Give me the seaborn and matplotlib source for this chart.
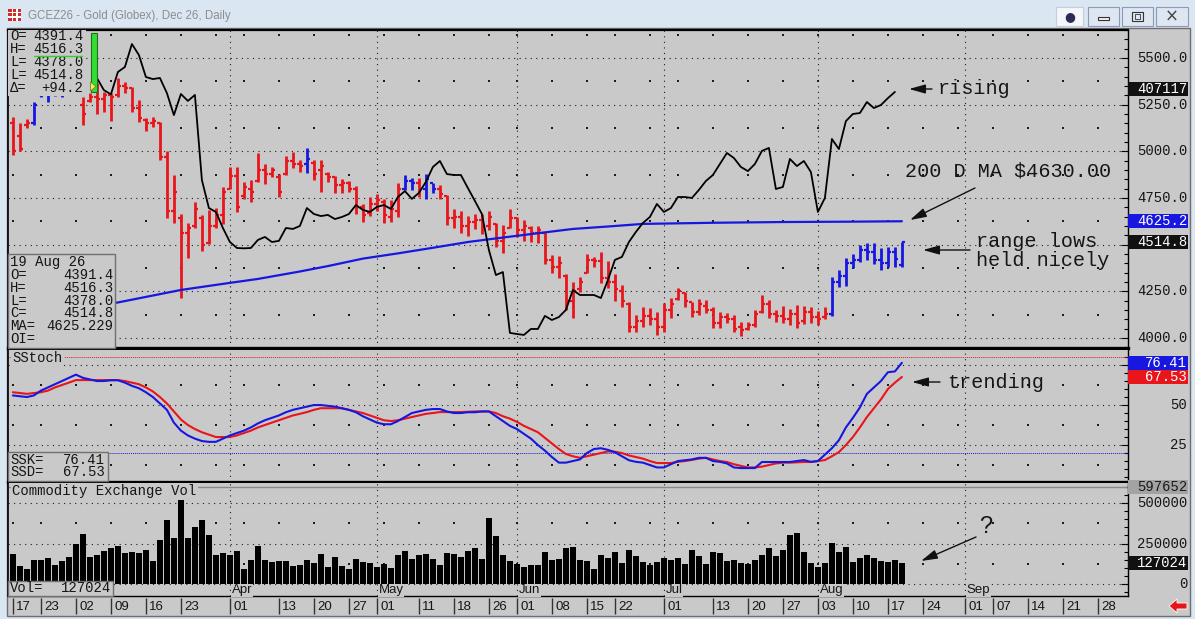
import numpy as np
import pandas as pd
import matplotlib
matplotlib.use("Agg")
import matplotlib.pyplot as plt
from matplotlib.patches import Rectangle, Polygon, FancyArrowPatch
from matplotlib.lines import Line2D
from matplotlib.ticker import MultipleLocator
import seaborn as sns

# ---------------- calendar ----------------
first_day = "2026-02-17"
last_day = "2026-09-30"
holidays = ["2026-04-03", "2026-05-25", "2026-06-19", "2026-07-03"]

week_ticks = ["2026-02-17", "2026-02-23", "2026-03-02", "2026-03-09", "2026-03-16",
              "2026-03-23", "2026-04-01", "2026-04-13", "2026-04-20", "2026-04-27",
              "2026-05-01", "2026-05-11", "2026-05-18", "2026-05-26", "2026-06-01",
              "2026-06-08", "2026-06-15", "2026-06-22", "2026-07-01", "2026-07-13",
              "2026-07-20", "2026-07-27", "2026-08-03", "2026-08-10", "2026-08-17",
              "2026-08-24", "2026-09-01", "2026-09-07", "2026-09-14", "2026-09-21",
              "2026-09-28"]
month_names = ["Apr", "May", "Jun", "Jul", "Aug", "Sep"]
month_starts = ["2026-04-01", "2026-05-01", "2026-06-01", "2026-07-01", "2026-08-03", "2026-09-01"]

# ---------------- daily bars (GCZ26) ----------------
high = [5184, 5152, 5173, 5264, 5380, 5400, 5420, 5450, 5470, 5440,
        5290, 5312, 5366, 5318, 5312, 5392, 5371, 5344, 5275, 5178,
        5184, 5157, 5002, 4873, 4664, 4616, 4728, 4659, 4686, 4696,
        4809, 4916, 4916, 4836, 4846, 4991, 4932, 4916, 4878, 4975,
        4996, 4953, 5018, 4953, 4953, 4889, 4868, 4852, 4841, 4814,
        4718, 4755, 4771, 4745, 4739, 4830, 4873, 4857, 4857, 4878,
        4830, 4820, 4766, 4691, 4680, 4653, 4664, 4664, 4680, 4616,
        4605, 4691, 4648, 4632, 4600, 4600, 4568, 4445, 4439, 4343,
        4300, 4327, 4450, 4434, 4461, 4410, 4340, 4284, 4193, 4123,
        4166, 4161, 4139, 4187, 4214, 4268, 4246, 4193, 4209, 4204,
        4166, 4139, 4134, 4123, 4086, 4086, 4150, 4230, 4204, 4150,
        4171, 4155, 4177, 4171, 4166, 4145, 4166, 4327, 4364, 4428,
        4450, 4498, 4509, 4509, 4482, 4487, 4487, 4516.3]
low = [4980, 5002, 5125, 5141, 5290, 5262, 5295, 5290, 5330, 5300,
       5141, 5264, 5200, 5210, 5162, 5290, 5312, 5210, 5157, 5109,
       5130, 4953, 4643, 4616, 4214, 4428, 4589, 4466, 4503, 4589,
       4611, 4798, 4675, 4745, 4728, 4836, 4825, 4862, 4755, 4873,
       4911, 4889, 4884, 4846, 4782, 4836, 4777, 4777, 4782, 4664,
       4621, 4653, 4680, 4616, 4621, 4648, 4793, 4793, 4755, 4745,
       4777, 4745, 4605, 4589, 4562, 4546, 4584, 4557, 4578, 4487,
       4455, 4589, 4541, 4519, 4514, 4509, 4396, 4348, 4321, 4150,
       4107, 4246, 4348, 4380, 4294, 4270, 4200, 4166, 4032, 4032,
       4059, 4070, 4016, 4032, 4107, 4204, 4166, 4112, 4123, 4134,
       4054, 4054, 4080, 4032, 4011, 4043, 4059, 4134, 4107, 4086,
       4080, 4070, 4054, 4075, 4080, 4070, 4102, 4118, 4273, 4278,
       4375, 4407, 4418, 4396, 4364, 4380, 4380, 4378.0]
open_ = [5150, 5080, 5140, 5150, 5300, 5350, 5380, 5400, 5420, 5360,
         5250, 5270, 5290, 5280, 5300, 5300, 5350, 5340, 5230, 5170,
         5150, 5150, 4970, 4680, 4640, 4560, 4600, 4640, 4510, 4600,
         4660, 4800, 4870, 4760, 4800, 4840, 4900, 4880, 4860, 4880,
         4950, 4930, 4930, 4940, 4900, 4880, 4860, 4820, 4830, 4800,
         4700, 4670, 4720, 4730, 4650, 4680, 4800, 4840, 4830, 4800,
         4830, 4800, 4760, 4640, 4650, 4600, 4620, 4630, 4600, 4610,
         4520, 4590, 4640, 4580, 4590, 4560, 4560, 4420, 4380, 4330,
         4200, 4260, 4350, 4420, 4410, 4320, 4300, 4250, 4180, 4060,
         4090, 4120, 4100, 4060, 4150, 4210, 4240, 4190, 4140, 4170,
         4150, 4080, 4110, 4100, 4060, 4050, 4070, 4140, 4180, 4130,
         4120, 4100, 4130, 4090, 4140, 4110, 4110, 4130, 4300, 4330,
         4400, 4420, 4470, 4460, 4420, 4400, 4460, 4391.4]
close = [5000, 5010, 5150, 5250, 5360, 5380, 5400, 5420, 5360, 5320,
         5200, 5290, 5280, 5300, 5290, 5350, 5340, 5230, 5180, 5150,
         5160, 4970, 4680, 4780, 4560, 4590, 4690, 4500, 4600, 4660,
         4780, 4870, 4700, 4810, 4780, 4900, 4880, 4900, 4780, 4950,
         4930, 4920, 4960, 4880, 4920, 4860, 4820, 4830, 4800, 4700,
         4660, 4720, 4740, 4660, 4690, 4800, 4840, 4830, 4800, 4850,
         4800, 4770, 4640, 4650, 4600, 4620, 4630, 4600, 4650, 4520,
         4560, 4640, 4580, 4600, 4560, 4580, 4420, 4380, 4400, 4200,
         4250, 4300, 4420, 4410, 4320, 4300, 4260, 4200, 4060, 4090,
         4120, 4100, 4060, 4150, 4180, 4250, 4200, 4140, 4180, 4150,
         4080, 4110, 4100, 4050, 4040, 4070, 4130, 4180, 4130, 4120,
         4100, 4130, 4080, 4140, 4110, 4100, 4130, 4300, 4330, 4400,
         4420, 4470, 4460, 4420, 4400, 4460, 4420.6, 4514.8]
# bar colouring of the platform: r = red, b = blue
bar_trend = ("rrr" + "bbbbb" + "rr" + "r" * 32 + "b" + "r" * 13 + "bb" + "r"
             + "bb" + "r" * 56 + "b" * 11)

# 200 day moving average (read at bar positions)
ma_day = [0, 5, 10, 15, 24, 31, 35, 41, 45, 50, 55, 60, 65, 70, 75, 80, 85, 90,
          100, 110, 120, 127]
ma_val = [4110, 4140, 4165, 4190, 4257, 4295, 4316, 4356, 4385, 4425, 4453, 4483,
          4514, 4538, 4561, 4584, 4597, 4611, 4617, 4621, 4623, 4625.2]

# open interest, drawn on the price scale (starts on bar 12, lags one day)
oi_start = 12
oi_on_price_scale = [5393, 5328, 5305, 5425, 5452, 5575, 5516, 5398, 5387, 5393,
                     5312, 5194, 5307, 5270, 5302, 4846, 4696, 4675, 4589, 4514,
                     4482, 4480, 4482, 4525, 4541, 4514, 4520, 4589, 4584, 4600,
                     4696, 4664, 4653, 4659, 4637, 4648, 4664, 4712, 4686, 4675,
                     4702, 4712, 4691, 4755, 4787, 4745, 4777, 4836, 4916, 4948,
                     4878, 4873, 4873, 4803, 4734, 4664, 4471, 4337, 4353, 4027,
                     4021, 4016, 4048, 4048, 4118, 4096, 4112, 4150, 4257, 4230,
                     4230, 4230, 4214, 4310, 4418, 4434, 4514, 4568, 4616, 4648,
                     4718, 4675, 4696, 4755, 4755, 4750, 4793, 4841, 4873, 4932,
                     4991, 4964, 4916, 4894, 4932, 5002, 5018, 4798, 4809, 4959,
                     4921, 4948, 4889, 4675, 4750, 5066, 5012, 5162, 5200, 5205,
                     5264, 5232, 5248, 5285, 5318]
oi_last = "407117"

# slow stochastic
ssk = [56, 55.5, 55, 56, 59, 61, 63, 65, 67, 69,
       67, 66, 65, 65, 65.5, 65.5, 64, 62, 60.5, 58,
       55, 51, 47, 39, 34, 31, 29, 27.5, 27, 27,
       29, 31, 32.5, 34, 36, 38.5, 40.5, 42, 43.5, 45.5,
       47, 48, 49, 50, 50, 49.5, 49, 48, 47, 45.5,
       43, 41, 39, 38, 38, 40, 42.5, 45, 46, 47,
       47.5, 47.5, 46, 45, 45, 45.5, 45.5, 46, 46, 43,
       40, 37, 35, 32, 29, 25, 21.5, 17.5, 14, 14,
       15, 16, 20, 22.5, 23, 22, 20.5, 18, 15.5, 14.5,
       14, 12.5, 11, 11, 13, 15, 15.5, 16, 17, 17,
       15, 14.5, 13.5, 11, 10.6, 10.6, 10.6, 14.4, 14.4, 14.4,
       14.4, 14.4, 15, 15.6, 14.5, 15, 19, 23, 28, 36,
       42, 48.5, 57, 61, 65, 70.5, 71, 76.41]
ssd = [58, 57.5, 57, 57.5, 58, 59, 61, 62.5, 64, 65.6,
       65.6, 65.6, 65.6, 65.6, 65.6, 65.6, 65, 64, 63, 61,
       58.5, 55, 51, 46, 41, 37.5, 35, 33, 31.5, 30,
       30, 30, 31, 32.5, 34, 36, 37.5, 39, 40.5, 42,
       43.5, 44.5, 45.6, 47, 48, 48, 48, 48, 47, 46,
       45, 43.5, 42, 40.5, 40, 40.5, 41.5, 42.5, 43.5, 44.5,
       45, 45.6, 45.6, 45.6, 45.6, 45.8, 46, 46, 46, 45,
       43, 41.5, 39.5, 37, 35, 33, 29.5, 26, 22.5, 19.4,
       18, 17, 18, 19, 20, 21, 20.8, 20, 18.5, 17.5,
       16.5, 15, 13.75, 13.75, 13.75, 14.5, 15, 15.7, 16.5, 17,
       16, 15, 14.4, 13, 12, 11, 11, 11.5, 12.5, 13.5,
       14, 14, 14.2, 14.4, 14.4, 15, 15.6, 18, 20.6, 25,
       30, 36, 42.5, 48, 53.5, 60, 64, 67.53]

# volume
vol = [185000, 111000, 90000, 148000, 148000, 158000, 117000, 142000, 165000, 247000,
       309000, 167000, 177000, 204000, 220000, 235000, 191000, 198000, 193000, 210000,
       142000, 272000, 395000, 284000, 519000, 284000, 350000, 395000, 303000, 177000,
       193000, 179000, 204000, 90000, 148000, 235000, 148000, 138000, 142000, 142000,
       111000, 117000, 148000, 128000, 185000, 103000, 167000, 111000, 90000, 154000,
       136000, 128000, 105000, 121000, 97000, 177000, 204000, 154000, 179000, 185000,
       154000, 117000, 191000, 185000, 167000, 204000, 222000, 154000, 407000, 296000,
       179000, 142000, 123000, 105000, 117000, 117000, 198000, 148000, 154000, 220000,
       228000, 148000, 140000, 90000, 180000, 160000, 196000, 129000, 212000, 171000,
       133000, 115000, 135000, 160000, 146000, 160000, 125000, 212000, 175000, 125000,
       200000, 194000, 140000, 146000, 129000, 125000, 150000, 181000, 225000, 175000,
       212000, 300000, 312000, 200000, 129000, 104000, 129000, 254000, 200000, 229000,
       137000, 158000, 179000, 160000, 142000, 137000, 148000, 127024]
vol_scale_top = 597652

price_grid = [4000, 4250, 4500, 4750, 5000, 5250, 5500]
price_labels = [4000, 4250, 4750, 5000, 5250, 5500]
stoch_grid = [25, 50, 75]
stoch_labels = [25, 50]
vol_grid = [0, 250000, 500000]

# ---------------- style ----------------
W, H = 1195, 619
GRAY = "#c9c9c9"
FRAME = "#dbe6f3"
RED = "#e8151b"
BLUE = "#1717e0"
DOT = "#1c1c1c"
MONO = ["Liberation Mono", "DejaVu Sans Mono"]
SANS = ["Liberation Sans", "DejaVu Sans"]

sns.set_style("white")
plt.rcParams["font.family"] = MONO

cal = pd.bdate_range(first_day, last_day)
cal = cal[~cal.isin(pd.to_datetime(holidays))]
pos = {d: i for i, d in enumerate(cal)}
week_cols = pd.Series(np.arange(len(cal)), index=cal).groupby(cal.to_period("W")).first().values
month_cols = [pos[pd.Timestamp(d)] for d in month_starts]
tick_cols = [pos[pd.Timestamp(d)] for d in week_ticks]

n = len(high)
idx = np.arange(n)
X0, X1 = -0.7, 159.3

fig = plt.figure(figsize=(W / 100, H / 100), dpi=100)
fig.patch.set_facecolor(FRAME)


def fx(x):
    return x / W


def fy(y):
    return 1 - y / H


def add_axes_px(x0, y0, x1, y1):
    return fig.add_axes([fx(x0), fy(y1), (x1 - x0) / W, (y1 - y0) / H])


def rect_px(x0, y0, x1, y1, z=5, **kw):
    r = Rectangle((fx(x0), fy(y1)), (x1 - x0) / W, (y1 - y0) / H,
                  transform=fig.transFigure, zorder=z, **kw)
    fig.add_artist(r)
    return r


def text_px(x, y, s, z=6, **kw):
    kw.setdefault("va", "center")
    kw.setdefault("family", MONO)
    kw.setdefault("fontsize", 10)
    kw.setdefault("color", "#151515")
    return fig.text(fx(x), fy(y), s, zorder=z, **kw)


def arrow_px(x0, y0, x1, y1):
    fig.add_artist(FancyArrowPatch((fx(x0), fy(y0)), (fx(x1), fy(y1)),
                                   transform=fig.transFigure,
                                   arrowstyle="-|>,head_length=0.9,head_width=0.25",
                                   mutation_scale=11, lw=1.0, color="#111111",
                                   shrinkA=0, shrinkB=0, zorder=7))


# chart background
rect_px(7, 28, 1190, 616, z=-1, facecolor=GRAY, edgecolor="#6e6e6e", lw=1)

ax_p = add_axes_px(8, 30, 1128, 348)
ax_s = add_axes_px(8, 350, 1128, 482)
ax_v = add_axes_px(8, 483, 1128, 596)
ax_d = add_axes_px(8, 597, 1128, 615)

# ---------------- price panel ----------------
bar_colors = [RED if t == "r" else BLUE for t in bar_trend]
ax_p.vlines(idx, low, high, colors=bar_colors, lw=2.0, zorder=3)
ax_p.hlines(open_, idx - 0.42, idx, colors=bar_colors, lw=1.6, zorder=3)
ax_p.hlines(close, idx, idx + 0.42, colors=bar_colors, lw=1.6, zorder=3)
sns.lineplot(x=ma_day, y=ma_val, ax=ax_p, color=BLUE, lw=1.6, zorder=4)
oi_day = idx[oi_start:oi_start + len(oi_on_price_scale)]
sns.lineplot(x=oi_day, y=oi_on_price_scale, ax=ax_p, color="black", lw=1.3, zorder=4)
ax_p.set_ylim(3946, 5650)

# ---------------- stochastic panel ----------------
sns.lineplot(x=idx, y=ssd, ax=ax_s, color=RED, lw=1.5, zorder=4)
sns.lineplot(x=idx, y=ssk, ax=ax_s, color=BLUE, lw=1.5, zorder=5)
ax_s.axhline(80, color=RED, lw=0.7, ls=(0, (1, 1)), zorder=2)
ax_s.axhline(20, color=BLUE, lw=0.7, ls=(0, (1, 1)), zorder=2)
ax_s.set_ylim(1.9, 84.4)

# ---------------- volume panel ----------------
sns.barplot(x=idx, y=vol, ax=ax_v, color="black", width=0.8, native_scale=True,
            errorbar=None, saturation=1, linewidth=0, zorder=3)
ax_v.axhline(vol_scale_top, color="#8a8a8a", lw=1.0, zorder=2)
ax_v.set_ylim(-74000, 623500)

# ---------------- common axis styling ----------------
grids = [(ax_p, price_grid, 125, 250, 50), (ax_s, stoch_grid, 12.5, 25, 5),
         (ax_v, vol_grid, 125000, 250000, 50000)]
for ax, levels, half, major, minor in grids:
    ax.set_xlim(X0, X1)
    ax.set_facecolor(GRAY)
    ax.set_xlabel("")
    ax.set_ylabel("")
    for lv in levels:
        ax.axhline(lv, color=DOT, lw=0.8, ls=(0, (1, 4)), zorder=1)
    for c in month_cols:
        ax.axvline(c, color=DOT, lw=0.8, ls=(0, (1, 4)), zorder=1)
    y0, y1 = ax.get_ylim()
    mids = [lv + half for lv in [levels[0] - 2 * half] + list(levels) if y0 < lv + half < y1]
    gx, gy = np.meshgrid(week_cols, mids)
    ax.scatter(gx.ravel(), gy.ravel(), s=1.6, marker="s", color=DOT, linewidths=0, zorder=1)
    ax.yaxis.set_major_locator(MultipleLocator(major))
    ax.yaxis.set_minor_locator(MultipleLocator(minor))
    ax.tick_params(axis="x", bottom=False, labelbottom=False)
    ax.tick_params(axis="y", which="both", direction="in", left=False, right=True,
                   labelleft=False, labelright=False, color="black", width=0.8)
    ax.tick_params(axis="y", which="major", length=5)
    ax.tick_params(axis="y", which="minor", length=3)
    for s in ax.spines.values():
        s.set_color("black")
    ax.spines["left"].set_linewidth(1.2)
    ax.spines["right"].set_linewidth(1.0)

ax_p.spines["top"].set_linewidth(1.6)
ax_p.spines["bottom"].set_linewidth(2.4)
ax_s.spines["top"].set_visible(False)
ax_s.spines["bottom"].set_linewidth(2.4)
ax_v.spines["top"].set_visible(False)
ax_v.spines["bottom"].set_linewidth(1.0)


def axis_label(ax, v, s, px_h, fc=None, tc="#151515"):
    y0, y1 = ax.get_ylim()
    tr = ax.get_yaxis_transform()
    if fc is not None:
        hh = 7 * (y1 - y0) / px_h
        ax.add_patch(Rectangle((1.0, v - hh), 60 / 1120, 2 * hh, transform=tr,
                               facecolor=fc, edgecolor="none", clip_on=False, zorder=10))
    ax.text(1 + 59 / 1120, v, s, transform=tr, ha="right", va="center", fontsize=10,
            family=MONO, color=tc, clip_on=False, zorder=11)


for v in price_labels:
    axis_label(ax_p, v, f"{v:.1f}", 318)
axis_label(ax_p, oi_on_price_scale[-1] + 14, oi_last, 318, fc="#111111", tc="white")
axis_label(ax_p, ma_val[-1], f"{ma_val[-1]:.1f}", 318, fc=BLUE, tc="white")
axis_label(ax_p, close[-1], f"{close[-1]:.1f}", 318, fc="#111111", tc="white")
for v in stoch_labels:
    axis_label(ax_s, v, f"{v}", 132)
axis_label(ax_s, ssk[-1], f"{ssk[-1]:.2f}", 132, fc=BLUE, tc="white")
axis_label(ax_s, ssd[-1], f"{ssd[-1]:.2f}", 132, fc=RED, tc="white")
for v in vol_grid:
    axis_label(ax_v, v, f"{v}", 113)
axis_label(ax_v, vol_scale_top, f"{vol_scale_top}", 113, fc="#a3a3a3", tc="#1a1a1a")
axis_label(ax_v, vol[-1], f"{vol[-1]}", 113, fc="#111111", tc="white")

# month names just above the date strip
for name, c in zip(month_names, month_cols):
    ax_v.text(c + 0.25, -38000, name, ha="left", va="center", fontsize=9.5, family=SANS,
              color="#151515", zorder=6,
              bbox=dict(boxstyle="square,pad=0.05", facecolor=GRAY, edgecolor="none"))

# ---------------- date strip ----------------
ax_d.set_xlim(X0, X1)
ax_d.set_ylim(0, 1)
ax_d.axis("off")
ax_d.vlines(tick_cols, 0.06, 0.94, colors="#333333", lw=1.0)
for d, c in zip(week_ticks, tick_cols):
    ax_d.text(c + 0.45, 0.45, pd.Timestamp(d).strftime("%d"), ha="left", va="center",
              fontsize=9.5, family=SANS, color="#151515")

# ---------------- data windows ----------------
rect_px(8, 30, 86, 96, facecolor=GRAY, edgecolor="none")
tl_labels = ["O=", "H=", "L=", "L=", "\u0394="]
tl_values = [f"{open_[-1]:.1f}", f"{high[-1]:.1f}", f"{low[-1]:.1f}", f"{close[-1]:.1f}",
             f"{close[-1] - close[-2]:+.1f}"]
for k, (lab, val) in enumerate(zip(tl_labels, tl_values)):
    yy = 36 + 13 * k
    text_px(10, yy, lab)
    text_px(83, yy, val, ha="right")
fig.add_artist(Line2D([fx(34), fx(82)], [fy(56), fy(56)], transform=fig.transFigure,
                      color="#2fcf2f", lw=1, zorder=7))
rect_px(90.5, 33, 97, 92, facecolor="#33dd33", edgecolor="#1d6f1d", lw=0.8)
fig.add_artist(Polygon([(fx(90.5), fy(82)), (fx(90.5), fy(91)), (fx(96), fy(86.5))],
                       closed=True, transform=fig.transFigure, facecolor="#f3ee55",
                       edgecolor="#7a7a30", lw=0.6, zorder=6))

rect_px(8, 254, 115, 348, facecolor=GRAY, edgecolor="#707070", lw=1)
text_px(10, 262, "19 Aug 26")
bl_labels = ["O=", "H=", "L=", "C=", "MA=", "OI="]
bl_values = [f"{open_[-1]:.1f}", f"{high[-1]:.1f}", f"{low[-1]:.1f}", f"{close[-1]:.1f}",
             "4625.229", ""]
for k, (lab, val) in enumerate(zip(bl_labels, bl_values)):
    yy = 275 + 12.8 * k
    text_px(10, yy, lab)
    text_px(113, yy, val, ha="right")

text_px(12, 358, "SStoch", bbox=dict(boxstyle="square,pad=0.1", facecolor=GRAY, edgecolor="none"))
rect_px(8, 452, 108, 481, facecolor=GRAY, edgecolor="#707070", lw=1)
text_px(10, 459.5, "SSK=")
text_px(105, 459.5, f"{ssk[-1]:.2f}", ha="right")
text_px(10, 472.5, "SSD=")
text_px(105, 472.5, f"{ssd[-1]:.2f}", ha="right")

text_px(12, 491, "Commodity Exchange Vol",
        bbox=dict(boxstyle="square,pad=0.1", facecolor=GRAY, edgecolor="none"))
rect_px(8, 581, 113, 596, facecolor=GRAY, edgecolor="#707070", lw=1)
text_px(10, 588.5, "Vol=")
text_px(111, 588.5, f"{vol[-1]}", ha="right")

# ---------------- annotations ----------------
NOTE = dict(family=MONO, fontsize=14.5, color="#161616")
text_px(938, 89, "rising", **NOTE)
arrow_px(932, 89, 909, 89)
text_px(905, 171, "200 D MA \\$4630.00", **NOTE)
arrow_px(975, 188, 910, 220)
text_px(976, 241, "range lows", **NOTE)
text_px(976, 261, "held nicely", **NOTE)
arrow_px(970, 250, 923, 250)
text_px(947, 382, "trending", **NOTE)
arrow_px(940, 382, 912, 382)
text_px(986, 527, "?", family=SANS, fontsize=17, color="#161616", ha="center")
arrow_px(976, 537, 921, 561)

# ---------------- window chrome ----------------
rect_px(8, 9, 21, 21, z=2, facecolor="#d32a2a", edgecolor="none")
for a, b in [(11.5, 13), (16, 17.5)]:
    rect_px(a, 9, b, 21, z=3, facecolor="white", edgecolor="none")
    rect_px(8, a, 21, b, z=3, facecolor="white", edgecolor="none")
text_px(28, 16, "GCEZ26 - Gold (Globex), Dec 26, Daily", family=SANS, fontsize=8.3,
        color="#8d8d8d")
rect_px(1056, 7, 1083, 26, z=2, facecolor="#f4f6fa", edgecolor="#c4cedb", lw=0.8)
text_px(1069.5, 16.5, "\u25cf", family=["DejaVu Sans"], fontsize=9, color="#2b2b55", ha="center")
for a, b in [(1088, 1119), (1122, 1153), (1156, 1188)]:
    rect_px(a, 7, b, 26, z=2, facecolor="#dde6f1", edgecolor="#8b9bb2", lw=0.8)
rect_px(1098, 17, 1109, 20, z=3, facecolor="#f2f2f2", edgecolor="#333333", lw=0.8)
rect_px(1132, 12, 1143, 21, z=3, facecolor="none", edgecolor="#333333", lw=0.8)
rect_px(1135, 14.5, 1140, 18.5, z=3, facecolor="none", edgecolor="#333333", lw=0.6)
text_px(1172, 16.5, "\u00d7", family=["DejaVu Sans"], fontsize=12, color="#444444",
        ha="center")
fig.add_artist(Polygon([(fx(1169), fy(606)), (fx(1177), fy(599)), (fx(1177), fy(603)),
                        (fx(1187), fy(603)), (fx(1187), fy(609)), (fx(1177), fy(609)),
                        (fx(1177), fy(613))], closed=True, transform=fig.transFigure,
                       facecolor="#e8141c", edgecolor="white", lw=0.6, zorder=6))

fig.savefig("out.png", dpi=100, facecolor=fig.get_facecolor())
